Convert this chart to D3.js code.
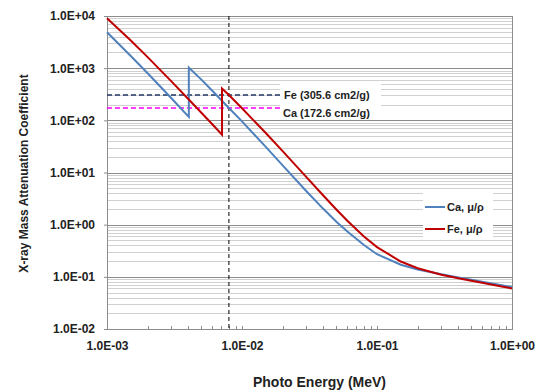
<!DOCTYPE html>
<html>
<head>
<meta charset="utf-8">
<script src="https://cdn.jsdelivr.net/npm/d3@7"></script>
<style>
  body { margin: 0; background: #fff; }
  text { font-family: "Liberation Sans", Arial, sans-serif; font-weight: bold; fill: #222; }
</style>
</head>
<body>
<div id="chart"></div>
<script>
// photon energy (MeV) and mass attenuation coefficient (cm2/g)
const caEnergy = [1e-3, 1.5e-3, 2e-3, 3e-3, 4e-3, 4.038e-3, 4.038e-3, 5e-3, 6e-3, 8e-3, 1e-2, 1.5e-2, 2e-2, 3e-2, 4e-2, 5e-2, 6e-2, 8e-2, 1e-1, 1.5e-1, 2e-1, 3e-1, 4e-1, 5e-1, 6e-1, 8e-1, 1];
const caMu = [4867, 1714, 800, 264.9, 119.2, 116.5, 1023, 602.5, 373.1, 172.6, 95.55, 30.9, 13.65, 4.37, 2.012, 1.139, 0.7441, 0.4073, 0.2715, 0.1706, 0.1388, 0.112, 0.09764, 0.08778, 0.08028, 0.07062, 0.06354];
const feEnergy = [1e-3, 1.5e-3, 2e-3, 3e-3, 4e-3, 5e-3, 6e-3, 7.112e-3, 7.112e-3, 8e-3, 1e-2, 1.5e-2, 2e-2, 3e-2, 4e-2, 5e-2, 6e-2, 8e-2, 1e-1, 1.5e-1, 2e-1, 3e-1, 4e-1, 5e-1, 6e-1, 8e-1, 1];
const feMu = [9085, 3399, 1626, 557.6, 256.7, 139.8, 84.84, 53.19, 407.6, 305.6, 170.6, 57.08, 25.68, 8.176, 3.629, 1.958, 1.205, 0.5952, 0.3717, 0.1964, 0.146, 0.1099, 0.094, 0.08414, 0.07704, 0.06699, 0.05995];

const cuKalpha = 8e-3;            // vertical reference line
const refLineEnd = 2e-2;
const feRef = 305.6, caRef = 172.6;

const xTicks = [1e-3, 1e-2, 1e-1, 1];
const yTicks = [1e-2, 1e-1, 1, 1e1, 1e2, 1e3, 1e4];
const fmt = v => v.toExponential(1).toUpperCase().replace(/E([+-])(\d)$/, "E$10$2");

const W = 537, H = 392;
const margin = { top: 16, right: 25, bottom: 63, left: 107 };
const width = W - margin.left - margin.right;
const height = H - margin.top - margin.bottom;

const svg = d3.select("#chart").append("svg")
  .attr("width", W).attr("height", H)
  .append("g")
  .attr("transform", `translate(${margin.left},${margin.top})`);

const x = d3.scaleLog().domain([1e-3, 1]).range([0, width]);
const y = d3.scaleLog().domain([1e-2, 1e4]).range([height, 0]);

// minor & major horizontal gridlines
const minorY = [];
yTicks.slice(0, -1).forEach(d => { for (let k = 2; k <= 9; k++) minorY.push(d * k); });
svg.append("g").selectAll("line").data(minorY).enter().append("line")
  .attr("x1", 0).attr("x2", width)
  .attr("y1", d => Math.round(y(d)) + 0.5).attr("y2", d => Math.round(y(d)) + 0.5)
  .attr("stroke", "#d0d0d0");
svg.append("g").selectAll("line").data(yTicks).enter().append("line")
  .attr("x1", 0).attr("x2", width)
  .attr("y1", d => Math.round(y(d)) + 0.5).attr("y2", d => Math.round(y(d)) + 0.5)
  .attr("stroke", "#8c8c8c");

// plot border
svg.append("rect").attr("x", 0.5).attr("y", 0.5).attr("width", width).attr("height", height)
  .attr("fill", "none").attr("stroke", "#8c8c8c");

// x axis: minor ticks pointing inward
const minorX = [];
xTicks.slice(0, -1).forEach(d => { for (let k = 1; k <= 10; k++) minorX.push(d * k); });
svg.append("g").selectAll("line").data(minorX).enter().append("line")
  .attr("x1", d => Math.round(x(d)) + 0.5).attr("x2", d => Math.round(x(d)) + 0.5)
  .attr("y1", height).attr("y2", height - 3)
  .attr("stroke", "#8c8c8c");

const xAxis = svg.append("g")
  .attr("transform", `translate(0,${height})`)
  .call(d3.axisBottom(x).tickValues(xTicks).tickFormat(fmt).tickSize(0).tickPadding(12));
xAxis.select(".domain").remove();
xAxis.selectAll("text").style("font-size", "12px").style("font-family", null);

const yAxis = svg.append("g")
  .call(d3.axisLeft(y).tickValues(yTicks).tickFormat(fmt).tickSize(3).tickPadding(9));
yAxis.select(".domain").remove();
yAxis.selectAll("line").attr("stroke", "#8c8c8c");
yAxis.selectAll("text").style("font-size", "12px").style("font-family", null);

// reference lines
svg.append("line")
  .attr("x1", x(cuKalpha)).attr("x2", x(cuKalpha)).attr("y1", 0).attr("y2", height)
  .attr("stroke", "#000").attr("stroke-width", 1).attr("stroke-dasharray", "4,3");
svg.append("line")
  .attr("x1", x(1e-3)).attr("x2", x(refLineEnd)).attr("y1", y(feRef)).attr("y2", y(feRef))
  .attr("stroke", "#1f3864").attr("stroke-width", 1.5).attr("stroke-dasharray", "5,3");
svg.append("line")
  .attr("x1", x(1e-3)).attr("x2", x(refLineEnd)).attr("y1", y(caRef)).attr("y2", y(caRef))
  .attr("stroke", "#ff00ff").attr("stroke-width", 1.5).attr("stroke-dasharray", "5,3");

// data lines
const line = d3.line().x(d => x(d[0])).y(d => y(d[1]));
svg.append("path").datum(d3.zip(caEnergy, caMu))
  .attr("d", line).attr("fill", "none").attr("stroke", "#4f81bd").attr("stroke-width", 2);
svg.append("path").datum(d3.zip(feEnergy, feMu))
  .attr("d", line).attr("fill", "none").attr("stroke", "#c00000").attr("stroke-width", 2);

// labels for reference values
svg.append("rect").attr("x", 173).attr("y", 66).attr("width", 101).attr("height", 36).attr("fill", "#fff");
svg.append("text").attr("x", 177).attr("y", y(feRef) + 4).style("font-size", "11px").text("Fe (305.6 cm2/g)");
svg.append("text").attr("x", 176).attr("y", y(caRef) + 9).style("font-size", "11px").text("Ca (172.6 cm2/g)");

// legend
const legend = svg.append("g").attr("transform", `translate(${316},${177})`);
legend.append("rect").attr("width", 70).attr("height", 47).attr("fill", "#fff");
[["Ca, \u03bc/\u03c1", "#4f81bd"], ["Fe, \u03bc/\u03c1", "#c00000"]].forEach((s, i) => {
  const g = legend.append("g").attr("transform", `translate(0,${14 + i * 22})`);
  g.append("line").attr("x1", 2).attr("x2", 22).attr("stroke", s[1]).attr("stroke-width", 2);
  g.append("text").attr("x", 24).attr("y", 4).style("font-size", "11px").text(s[0]);
});

// axis titles
svg.append("text").attr("x", width / 2 + 10).attr("y", height + 58)
  .attr("text-anchor", "middle").style("font-size", "14px").text("Photo Energy (MeV)");
svg.append("text").attr("transform", `translate(${28 - margin.left},${height / 2 + 1}) rotate(-90)`)
  .attr("text-anchor", "middle").style("font-size", "12px").text("X-ray Mass Attenuation Coefficient");
</script>
</body>
</html>
